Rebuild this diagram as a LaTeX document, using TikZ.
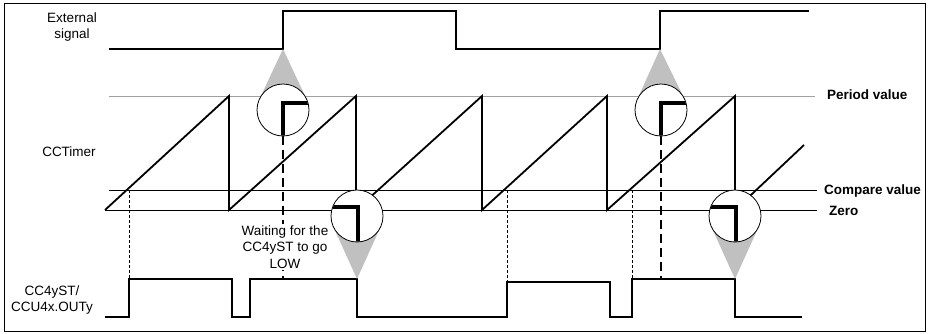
\documentclass[tikz,border=0pt]{standalone}
\usepackage{fontspec}
\setmainfont{Liberation Sans}
\definecolor{conegray}{RGB}{192,192,192}
\definecolor{periodgray}{RGB}{160,160,160}
\begin{document}
\begin{tikzpicture}[x=1pt,y=-1pt,
  sig/.style={line width=1.8pt, line join=miter},
  refline/.style={line width=0.8pt},
  mag/.style={circle, draw, fill=white, minimum size=52pt, inner sep=0pt, line width=0.8pt},
  cone/.style={fill=conegray},
  zoomL/.style={line width=3.6pt, line join=miter},
  startdash/.style={line width=2.2pt, dash pattern=on 9pt off 5pt},
  crossdash/.style={line width=0.8pt, dash pattern=on 3pt off 2pt},
  lbl/.style={font=\fontsize{13.5}{16.5}\selectfont, inner sep=0pt, align=center},
  blbl/.style={font=\fontsize{13.5}{16.5}\selectfont\bfseries, inner sep=0pt, anchor=west},
]
\useasboundingbox (0,0) rectangle (928,333);
\draw[line width=0.8pt] (4,3) rectangle (925,331);

% reference levels
\draw[refline, periodgray] (109,96) -- (815,96);
\draw[refline] (109,190) -- (817,190);
\draw[refline] (105,210) -- (817,210);

% labels
\node[lbl] (lext) at (72,27) {External\\signal};
\node[lbl] (ltim) at (69,152) {CCTimer};
\node[lbl] (lst) at (52,300) {CC4yST/\\CCU4x.OUTy};
\node[blbl] (lper) at (827,95) {Period value};
\node[blbl] (lcmp) at (824,191) {Compare value};
\node[blbl] (lzero) at (829,211) {Zero};

% external signal
\draw[sig] (109,49) -- (283,49) -- (283,11) -- (456,11) -- (456,49)
  -- (660,49) -- (660,11) -- (809,11);

% timer sawtooth
\draw[sig] (105,210) -- (229,96) -- (229,210) -- (356,96) -- (356,210)
  -- (482,96) -- (482,210) -- (607,96) -- (607,210) -- (735,96)
  -- (735,210) -- (804,145);

% CC4yST output
\draw[sig] (105,317) -- (129,317) -- (129,279) -- (232,279) -- (232,317)
  -- (250,317) -- (250,279) -- (357,279) -- (357,317) -- (507,317)
  -- (507,282) -- (610,282) -- (610,317) -- (632,317) -- (632,279)
  -- (735,279) -- (735,317) -- (802,317);

% compare crossings
\draw[crossdash] (129,190) -- (129,279);
\draw[crossdash] (507,190) -- (507,282);
\draw[crossdash] (632,190) -- (632,279);

% start markers
\draw[startdash] (283,136) -- (283,279);
\draw[startdash] (661,136) -- (661,279);

% waiting text
\node[lbl, fill=white, inner sep=1.5pt] (wait) at (285,247) {Waiting for the\\CC4yST to go\\LOW};

% cones
\fill[cone] (283,49) -- (306.5,98.9) -- (259.5,98.9) -- cycle;
\fill[cone] (660,49) -- (684.5,98.9) -- (637.5,98.9) -- cycle;
\fill[cone] (357,279) -- (380.7,226.7) -- (333.3,226.7) -- cycle;
\fill[cone] (735,279) -- (758.7,226.7) -- (711.3,226.7) -- cycle;

% magnifier circles
\node[mag] (m1) at (283,110) {};
\node[mag] (m2) at (357,216) {};
\node[mag] (m3) at (661,110) {};
\node[mag] (m4) at (735,216) {};

\begin{scope}
\clip (283,110) circle[radius=25.6pt];
\draw[zoomL] (283,140) -- (283,103) -- (312,103);
\end{scope}
\begin{scope}
\clip (661,110) circle[radius=25.6pt];
\draw[zoomL] (661,140) -- (661,103) -- (690,103);
\end{scope}
\begin{scope}
\clip (357,216) circle[radius=25.6pt];
\draw[zoomL] (328,207) -- (358,207) -- (358,245);
\end{scope}
\begin{scope}
\clip (735,216) circle[radius=25.6pt];
\draw[zoomL] (706,207) -- (736,207) -- (736,245);
\end{scope}
\end{tikzpicture}
\end{document}
